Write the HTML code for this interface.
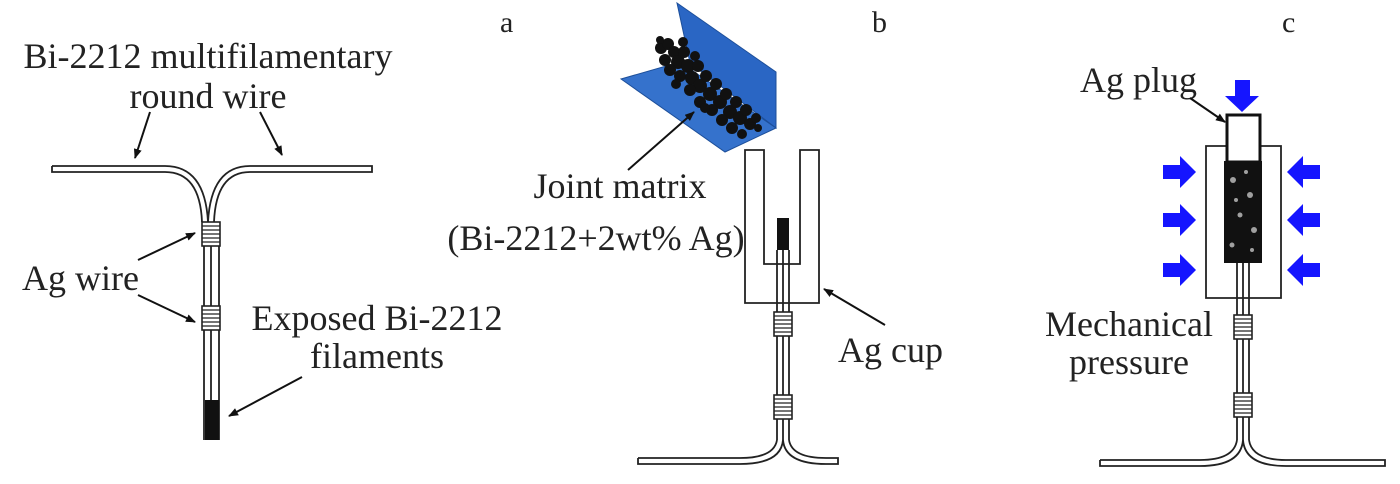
<!DOCTYPE html>
<html><head><style>body{margin:0;background:#fff}svg{display:block}</style></head><body>
<svg width="1400" height="484" viewBox="0 0 1400 484" xmlns="http://www.w3.org/2000/svg" font-family="'Liberation Serif', serif" font-size="36" fill="#222">
<defs>
<marker id="ah" markerWidth="10" markerHeight="8" refX="9" refY="4" orient="auto" markerUnits="userSpaceOnUse"><path d="M0,0 L10,4 L0,8 Z" fill="#111"/></marker>
<g id="coil"><rect x="-9" y="0" width="18" height="24" fill="#fff" stroke="#222" stroke-width="1.6"/>
<path d="M-9,4H9M-9,8H9M-9,12H9M-9,16H9M-9,20H9" stroke="#222" stroke-width="1.3"/></g>
<g id="blueR"><path d="M0,-7 H17 V-16 L33,0 L17,16 V7 H0 Z" fill="#1515ff"/></g>
</defs>
<g fill="#222">
<text x="500" y="32" font-size="30">a</text><text x="872" y="32" font-size="30">b</text><text x="1282" y="32" font-size="30">c</text>
<text x="208" y="68" text-anchor="middle">Bi-2212 multifilamentary</text>
<text x="208" y="108" text-anchor="middle">round wire</text>
<text x="22" y="290">Ag wire</text>
<text x="377" y="330" text-anchor="middle">Exposed Bi-2212</text>
<text x="377" y="368" text-anchor="middle">filaments</text>
<text x="620" y="198" text-anchor="middle">Joint matrix</text>
<text x="596" y="250" text-anchor="middle">(Bi-2212+2wt% Ag)</text>
<text x="838" y="362">Ag cup</text>
<text x="1080" y="92">Ag plug</text>
<text x="1129" y="336" text-anchor="middle">Mechanical</text>
<text x="1129" y="374" text-anchor="middle">pressure</text>
</g>
<g fill="none" stroke="#222" stroke-width="1.8">
<path d="M52,166 H165 Q205,166 208,222 M208,222 Q211,166 250,166 H372 V172 H250 Q216,172 214,222 M52,166 V172 H165 Q200,172 202,222"/>
<path d="M204,222 V440 M219,222 V440 M211,222 V400"/>
<path d="M745,150 H764 V264 H800 V150 H819 V303 H745 Z"/>
<path d="M777,250 V440 M789,250 V440 M783,250 V440"/>
<path d="M638,458 V464 H740 Q781,464 783,440 Q785,464 826,464 H838 V458 H826 Q792,458 789,440 M638,458 H740 Q774,458 777,440"/>
<path d="M1227,146 H1206 V298 H1281 V146 H1260"/>
<path d="M1237,262 V440 M1249,262 V440 M1243,262 V440"/>
<path d="M1100,460 V466 H1200 Q1241,466 1243,440 Q1245,466 1286,466 H1385 V460 H1286 Q1252,460 1249,440 M1100,460 H1200 Q1234,460 1237,440"/>
</g>
<rect x="1227" y="115" width="33" height="47" fill="#fff" stroke="#111" stroke-width="3"/>
<rect x="1225" y="162" width="36" height="100" fill="#111" stroke="#111" stroke-width="2"/>
<g fill="#fff" opacity="0.6"><circle cx="1233" cy="180" r="3"/><circle cx="1250" cy="195" r="3"/><circle cx="1240" cy="215" r="2.5"/><circle cx="1254" cy="230" r="3"/><circle cx="1232" cy="245" r="2.5"/><circle cx="1246" cy="172" r="2"/><circle cx="1236" cy="200" r="2"/><circle cx="1252" cy="250" r="2"/></g>
<rect x="205" y="400" width="14" height="40" fill="#111"/>
<rect x="777" y="218" width="12" height="32" fill="#111"/>
<use href="#coil" x="211" y="222"/><use href="#coil" x="211" y="306"/>
<use href="#coil" x="783" y="312"/><use href="#coil" x="783" y="395"/>
<use href="#coil" x="1243" y="315"/><use href="#coil" x="1243" y="393"/>
<path d="M677,3 L776,72 L776,128 L690,63 Z" fill="#2a66c4" stroke="#1d4f9a" stroke-width="1"/>
<path d="M621,79 L680,62 L776,128 L725,152 Z" fill="#3572cc" stroke="#1d4f9a" stroke-width="1"/>
<g fill="#111">
<circle cx="661" cy="48" r="6"/><circle cx="668" cy="44" r="6"/><circle cx="674" cy="52" r="6"/><circle cx="665" cy="60" r="6"/><circle cx="678" cy="62" r="7"/><circle cx="670" cy="70" r="6"/><circle cx="684" cy="52" r="6"/><circle cx="688" cy="66" r="7"/><circle cx="680" cy="76" r="6"/><circle cx="692" cy="78" r="7"/><circle cx="698" cy="66" r="6"/><circle cx="700" cy="86" r="7"/><circle cx="690" cy="90" r="6"/><circle cx="706" cy="76" r="6"/><circle cx="710" cy="94" r="7"/><circle cx="700" cy="102" r="6"/><circle cx="716" cy="84" r="6"/><circle cx="720" cy="102" r="7"/><circle cx="712" cy="110" r="6"/><circle cx="726" cy="94" r="6"/><circle cx="730" cy="112" r="7"/><circle cx="722" cy="120" r="6"/><circle cx="736" cy="102" r="6"/><circle cx="740" cy="118" r="7"/><circle cx="732" cy="128" r="6"/><circle cx="746" cy="110" r="6"/><circle cx="750" cy="124" r="6"/><circle cx="742" cy="134" r="5"/><circle cx="756" cy="118" r="5"/><circle cx="758" cy="128" r="4"/><circle cx="683" cy="42" r="5"/><circle cx="695" cy="56" r="5"/><circle cx="705" cy="108" r="5"/><circle cx="676" cy="84" r="5"/><circle cx="660" cy="40" r="4"/>
</g>
<path d="M1235,80 H1250 V96 H1259 L1242,112 L1225,96 H1235 Z" fill="#1515ff"/>
<use href="#blueR" x="1163" y="172"/><use href="#blueR" x="1163" y="220"/><use href="#blueR" x="1163" y="270"/>
<g transform="translate(2608,0) scale(-1,1)"><use href="#blueR" x="1288" y="172"/><use href="#blueR" x="1288" y="220"/><use href="#blueR" x="1288" y="270"/></g>
<g stroke="#111" stroke-width="2" marker-end="url(#ah)">
<line x1="150" y1="112" x2="135" y2="158"/>
<line x1="260" y1="112" x2="282" y2="155"/>
<line x1="138" y1="260" x2="195" y2="233"/>
<line x1="138" y1="295" x2="195" y2="322"/>
<line x1="302" y1="377" x2="229" y2="416"/>
<line x1="628" y1="170" x2="694" y2="112"/>
<line x1="885" y1="325" x2="824" y2="289"/>
<line x1="1190" y1="98" x2="1225" y2="122"/>
</g>
</svg>
</body></html>
